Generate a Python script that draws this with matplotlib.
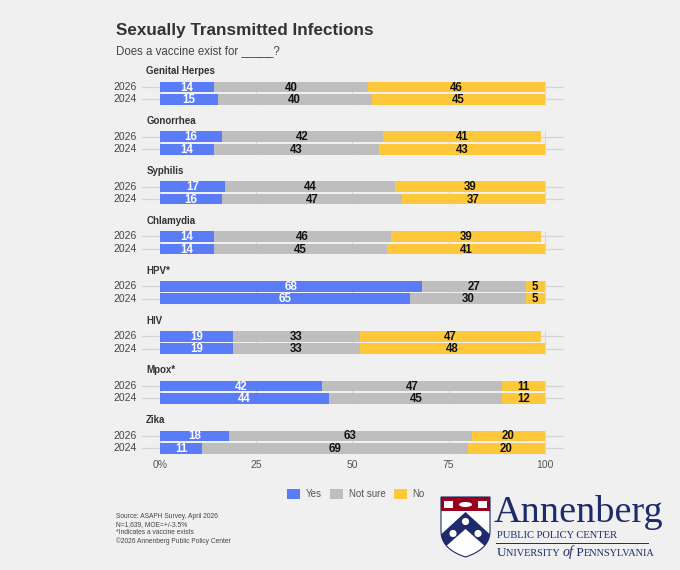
import matplotlib
matplotlib.use('Agg')
import numpy as np
import matplotlib.pyplot as plt
from matplotlib.patches import Patch, Polygon, Rectangle, Circle, Ellipse

plt.rcParams['font.family'] = ['Liberation Sans', 'DejaVu Sans']

# data
infections = ['Genital Herpes', 'Gonorrhea', 'Syphilis', 'Chlamydia', 'HPV*', 'HIV', 'Mpox*', 'Zika']
years = ['2026', '2024']
yes_2026 = [14, 16, 17, 14, 68, 19, 42, 18]
notsure_2026 = [40, 42, 44, 46, 27, 33, 47, 63]
no_2026 = [46, 41, 39, 39, 5, 47, 11, 20]
yes_2024 = [15, 14, 16, 14, 65, 19, 44, 11]
notsure_2024 = [40, 43, 47, 45, 30, 33, 45, 69]
no_2024 = [45, 43, 37, 41, 5, 48, 12, 20]
answers = ['Yes', 'Not sure', 'No']
x_ticks = [0, 25, 50, 75, 100]
x_ticklabels = ['0%', '25', '50', '75', '100']

BG = '#f0f0f0'
BLUE = '#5a7cf6'
GRAY = '#bebebe'
YELLOW = '#ffc83a'
NAVY = '#1d2a6c'
RED = '#98001c'
colors = [BLUE, GRAY, YELLOW]

fig = plt.figure(figsize=(6.8, 5.7), dpi=100, facecolor=BG)

# main chart axes, pixel-tuned to the reference
ax = fig.add_axes([142 / 680, (570 - 455.8) / 570, 422 / 680, 376.3 / 570])
ax.set_facecolor(BG)
ax.set_xlim(-4.7, 105)
ax.set_ylim(29.6, -0.6)
for s in ax.spines.values():
    s.set_visible(False)

series = {'2026': [yes_2026, notsure_2026, no_2026],
          '2024': [yes_2024, notsure_2024, no_2024]}
bar_h = 0.86

for g, name in enumerate(infections):
    y0 = 4 * g
    # short gridline stubs inside each group
    ax.vlines(x_ticks, y0 - bar_h / 2, y0 + 1 + bar_h / 2, color='#d8d8d8', lw=0.8, zorder=1)
    ax.text(-3.6, y0 - 1.25, name, ha='left', va='center', fontsize=7,
            fontweight='bold', color='#333333', clip_on=False)
    for k, yr in enumerate(years):
        y = y0 + k
        ax.axhline(y, color='#d4d4d4', lw=0.9, zorder=0)
        ax.text(-6.0, y, yr, ha='right', va='center', fontsize=7.5, color='#444444', clip_on=False)
        left = 0
        for j, vals in enumerate(series[yr]):
            v = vals[g]
            w = min(v, 100 - left)
            ax.barh(y, w, left=left, height=bar_h, color=colors[j], zorder=2)
            ax.text(left + w / 2, y + 0.05, str(v), ha='center', va='center', fontsize=8.3,
                    fontweight='bold', color='white' if j == 0 else '#111111', zorder=3)
            left += w

ax.set_xticks(x_ticks)
ax.set_xticklabels(x_ticklabels)
ax.tick_params(axis='x', length=0, pad=3, labelsize=7.5, labelcolor='#555555')
ax.set_yticks([])

# title / subtitle
fig.text(116 / 680, 1 - 31 / 570, 'Sexually Transmitted Infections', fontsize=12.3,
         fontweight='bold', color='#333333', va='center', ha='left')
fig.text(116 / 680, 1 - 51 / 570, 'Does a vaccine exist for _____?', fontsize=8.3,
         color='#444444', va='center', ha='left')

# legend
handles = [Patch(facecolor=c, edgecolor='none') for c in colors]
leg = fig.legend(handles, answers, loc='center', bbox_to_anchor=(356 / 680, 1 - 494 / 570),
                 ncol=3, frameon=False, handlelength=1.35, handleheight=1.35, fontsize=7,
                 columnspacing=0.8, handletextpad=0.6)
for t in leg.get_texts():
    t.set_color('#555555')

# source note
fig.text(116 / 680, 1 - 513 / 570,
         'Source: ASAPH Survey, April 2026\nN=1,639, MOE=+/-3.5%\n*Indicates a vaccine exists\n\u00a92026 Annenberg Public Policy Center',
         fontsize=4.8, color='#444444', va='top', ha='left', linespacing=1.2)

# logo, drawn in pixel coordinates
lg = fig.add_axes([0, 0, 1, 1], zorder=5)
lg.set_xlim(0, 680)
lg.set_ylim(570, 0)
lg.axis('off')
lg.patch.set_alpha(0)

t = np.linspace(0, 1, 24)[:, None]
p0, p1, p2 = np.array([490, 531]), np.array([490, 549]), np.array([465.5, 557])
right_curve = (1 - t) ** 2 * p0 + 2 * (1 - t) * t * p1 + t ** 2 * p2
left_curve = right_curve[::-1].copy()
left_curve[:, 0] = 931 - left_curve[:, 0]
shield_pts = np.vstack([[[441, 497], [490, 497]], right_curve, left_curve[1:]])
shield = Polygon(shield_pts, closed=True, facecolor='white', edgecolor='none')
lg.add_patch(shield)
band = Rectangle((441, 497), 49, 14, facecolor=RED, edgecolor='none')
lg.add_patch(band)
band.set_clip_path(shield)
lg.add_patch(Rectangle((444, 500.5), 9, 7, facecolor='white', edgecolor='none'))
lg.add_patch(Rectangle((478, 500.5), 9, 7, facecolor='white', edgecolor='none'))
lg.add_patch(Ellipse((465.5, 504.5), 13, 5, facecolor='white', edgecolor='none'))
chevron = Polygon([[436, 539], [465.5, 512], [495, 539], [495, 555], [465.5, 529], [436, 555]],
                  closed=True, facecolor=NAVY, edgecolor='none')
lg.add_patch(chevron)
chevron.set_clip_path(shield)
for cx, cy in [(465.5, 521.5), (453, 533.5), (478, 533.5)]:
    lg.add_patch(Circle((cx, cy), 3.6, facecolor='white', edgecolor='none'))
lg.add_patch(Polygon(shield_pts, closed=True, facecolor='none', edgecolor=NAVY, lw=0.8))

lg.text(494, 522, 'Annenberg', fontsize=27.5, family='Liberation Serif', color=NAVY,
        va='baseline', ha='left')
lg.text(497, 537.5, 'PUBLIC POLICY CENTER', fontsize=7.6, family='Liberation Serif',
        color=NAVY, va='baseline', ha='left')
lg.plot([496, 648], [542.8, 542.8], color=NAVY, lw=0.7)

renderer = fig.canvas.get_renderer()
x = 497
for txt, size, style in [('U', 9.5, 'normal'), ('NIVERSITY ', 7.4, 'normal'), ('of', 10, 'italic'),
                         (' P', 9.5, 'normal'), ('ENNSYLVANIA', 7.4, 'normal')]:
    tt = lg.text(x, 556, txt, fontsize=size, family='Liberation Serif', style=style,
                 color=NAVY, va='baseline', ha='left')
    x += tt.get_window_extent(renderer=renderer).width

fig.savefig('out.png', dpi=100, facecolor=BG)
